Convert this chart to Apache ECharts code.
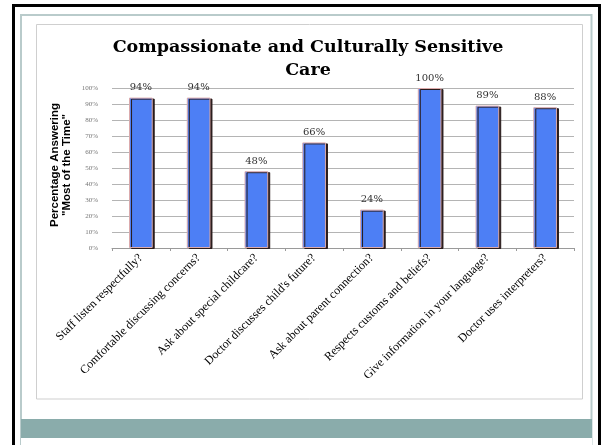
<!DOCTYPE html>
<html>
<head>
<meta charset="utf-8">
<script src="https://cdn.jsdelivr.net/npm/echarts@6/dist/echarts.min.js"></script>
<style>
  html, body { margin: 0; padding: 0; background: #ffffff; }
  #chart { width: 602px; height: 445px; }
</style>
</head>
<body>
<div id="chart"></div>
<script>
// Survey questions along the x axis
const questions = [
  'Staff listen respectfully?',
  'Comfortable discussing concerns?',
  'Ask about special childcare?',
  'Doctor discusses child\'s future?',
  'Ask about parent connection?',
  'Respects customs and beliefs?',
  'Give information in your language?',
  'Doctor uses interpreters?'
];

// Share of parents answering "Most of the Time" (percent)
const mostOfTheTime = [94, 94, 48, 66, 24, 100, 89, 88];

// Value axis range and step (percent)
const axisMin = 0;
const axisMax = 100;
const axisStep = 10;

const chart = echarts.init(document.getElementById('chart'), null, { renderer: 'canvas' });

const serif = '"Liberation Serif", "Times New Roman", serif';
const wideSerif = '"DejaVu Serif", Georgia, serif';
const sans = '"Liberation Sans", Arial, sans-serif';

chart.setOption({
  animation: false,
  backgroundColor: '#ffffff',
  title: {
    text: 'Compassionate and Culturally Sensitive\nCare',
    left: 303,
    top: 31,
    textAlign: 'center',
    textStyle: {
      fontFamily: wideSerif,
      fontWeight: 'bold',
      fontSize: 17.5,
      lineHeight: 23,
      color: '#000000'
    }
  },
  graphic: [
    // slide frame
    { type: 'rect', shape: { x: 13.5, y: 5.5, width: 586, height: 445 }, style: { fill: 'none', stroke: '#000000', lineWidth: 3 }, z: 10 },
    { type: 'rect', shape: { x: 21, y: 15, width: 570.5, height: 440 }, style: { fill: 'none', stroke: '#b9cbcb', lineWidth: 2 }, z: 10 },
    // chart border
    { type: 'rect', shape: { x: 36.5, y: 24.5, width: 546, height: 374.5 }, style: { fill: 'none', stroke: '#cfcfcf', lineWidth: 1 }, z: 10 },
    // footer band
    { type: 'rect', shape: { x: 21, y: 419, width: 571, height: 19 }, style: { fill: '#8aacab' }, z: 11 },
    { type: 'rect', shape: { x: 21, y: 438, width: 571, height: 7 }, style: { fill: '#ffffff' }, z: 11 },
    // y axis title
    {
      type: 'text',
      x: 61,
      y: 165,
      rotation: Math.PI / 2,
      style: {
        text: 'Percentage Answering\n"Most of the Time"',
        font: 'bold 11.5px ' + sans,
        fill: '#000000',
        align: 'center',
        verticalAlign: 'middle',
        lineHeight: 12
      },
      z: 12
    }
  ],
  grid: {
    left: 112,
    right: 28,
    top: 88,
    bottom: 197,
    containLabel: false
  },
  xAxis: {
    type: 'category',
    data: questions,
    axisLine: { show: true, lineStyle: { color: '#9a9a9a', width: 1 } },
    axisTick: { show: true, alignWithLabel: false, length: 3, lineStyle: { color: '#9a9a9a' } },
    axisLabel: {
      interval: 0,
      rotate: 45,
      margin: 8,
      fontFamily: serif,
      fontSize: 12,
      color: '#000000'
    }
  },
  yAxis: {
    type: 'value',
    min: axisMin,
    max: axisMax,
    interval: axisStep,
    axisLine: { show: false },
    axisTick: { show: false },
    splitLine: { lineStyle: { color: '#b4b4b4', width: 1 } },
    axisLabel: {
      formatter: '{value}%',
      fontFamily: serif,
      fontSize: 7,
      color: '#777777',
      margin: 14
    }
  },
  series: [{
    type: 'bar',
    data: mostOfTheTime,
    barWidth: '41%',
    itemStyle: {
      color: '#4d7ff5',
      borderColor: '#dcaaaa',
      borderWidth: 1,
      shadowColor: '#2a1c1c',
      shadowOffsetX: 2,
      shadowOffsetY: 1,
      shadowBlur: 0
    },
    label: {
      show: true,
      position: 'top',
      distance: 5,
      formatter: '{c}%',
      fontFamily: wideSerif,
      fontSize: 10,
      color: '#333333'
    }
  }]
});
</script>
</body>
</html>
